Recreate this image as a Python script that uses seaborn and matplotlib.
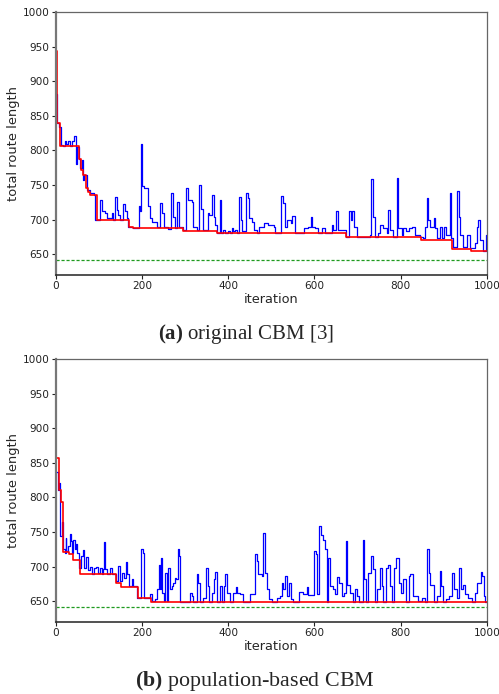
import numpy as np
import pandas as pd
import matplotlib
matplotlib.use("Agg")
import matplotlib.pyplot as plt
import seaborn as sns

# ---------------- data ----------------
optimum = 641

# (a) original CBM
a_best_iter = [0, 4, 10, 55, 59, 64, 70, 74, 80, 95, 170, 180, 294, 373, 673, 848, 920, 963, 1000]
a_best_len = [943, 839, 806, 788, 772, 764, 745, 740, 736, 699, 690, 688, 684, 680, 675, 671, 658, 654, 654]

a_cur_iter = [0, 3, 8, 12, 18, 22, 25, 29, 33, 37, 42, 46, 50, 53, 56, 60, 64, 66, 72, 80,
              88, 92, 103, 107, 114, 118, 126, 130, 134, 138, 141, 145, 149, 157, 161, 166, 168,
              180, 192, 195, 197, 201, 205, 211, 213, 219, 223, 230, 234, 242, 246, 250, 261,
              267, 271, 277, 282, 287, 294, 302, 307, 315, 319, 327, 332, 336, 341, 352, 356,
              362, 366, 369, 375, 381, 383, 389, 393, 400, 404, 408, 412, 416, 420, 426, 429,
              433, 441, 445, 449, 454, 460, 466, 472, 483, 493, 505, 508, 522, 526, 532, 537,
              546, 549, 555, 576, 586, 591, 595, 601, 609, 617, 624, 640, 644, 651, 655, 673,
              681, 685, 688, 692, 698, 729, 731, 735, 740, 748, 752, 760, 767, 771, 775, 781,
              791, 794, 802, 806, 812, 818, 825, 833, 845, 852, 856, 860, 864, 868, 876, 880,
              883, 890, 895, 900, 906, 914, 917, 922, 930, 934, 937, 944, 953, 961, 972, 976,
              980, 984, 990, 997, 1000]
a_cur_len = [881, 840, 834, 808, 807, 813, 809, 813, 807, 813, 821, 781, 805, 787, 774, 786, 757, 764, 743, 738,
             736, 700, 729, 713, 709, 702, 703, 709, 700, 732, 714, 707, 700, 723, 712, 703, 690,
             688, 719, 712, 809, 748, 745, 745, 719, 702, 697, 696, 689, 724, 709, 690, 687,
             739, 704, 688, 725, 690, 685, 745, 728, 726, 690, 685, 750, 716, 685, 709, 707,
             736, 704, 692, 680, 728, 680, 685, 680, 684, 680, 688, 683, 685, 680, 732, 700,
             683, 738, 731, 702, 697, 685, 680, 690, 695, 692, 690, 680, 734, 724, 690, 700,
             695, 705, 680, 688, 690, 704, 690, 688, 680, 688, 680, 692, 685, 712, 685, 675,
             712, 700, 712, 690, 675, 678, 758, 704, 675, 680, 692, 688, 680, 714, 685, 675,
             760, 688, 678, 688, 683, 688, 689, 678, 675, 673, 690, 731, 700, 690, 702, 688,
             673, 690, 673, 690, 678, 739, 673, 661, 741, 704, 678, 661, 678, 659, 666, 690,
             700, 670, 654, 678, 678]

# (b) population-based CBM
b_best_iter = [0, 8, 12, 18, 30, 40, 57, 140, 152, 190, 220, 1000]
b_best_len = [857, 811, 794, 721, 718, 710, 690, 677, 671, 654, 649, 649]

b_cur_iter = [0, 5, 8, 11, 14, 16, 18, 22, 23, 25, 29, 32, 35, 38, 41, 44, 47, 50, 55, 58,
              63, 66, 70, 75, 80, 84, 89, 94, 97, 103, 107, 110, 113, 115, 120, 126, 130, 140,
              145, 148, 153, 158, 162, 166, 171, 176, 180, 189, 198, 202, 205, 219, 223, 230,
              236, 239, 242, 244, 247, 250, 253, 257, 260, 264, 269, 273, 277, 280, 283, 286,
              288, 311, 315, 319, 327, 331, 335, 342, 348, 352, 356, 362, 366, 369, 373, 381,
              385, 390, 393, 398, 404, 412, 417, 421, 427, 435, 451, 462, 466, 470, 478, 481,
              485, 489, 495, 501, 512, 520, 524, 528, 532, 536, 542, 545, 551, 565, 573, 582,
              586, 599, 604, 607, 611, 615, 619, 624, 628, 632, 636, 642, 648, 652, 658, 663,
              668, 672, 676, 682, 689, 694, 699, 704, 712, 715, 719, 725, 731, 735, 740, 746,
              752, 756, 760, 765, 770, 774, 779, 785, 789, 795, 800, 806, 812, 818, 821, 828,
              841, 849, 856, 862, 866, 869, 876, 883, 890, 893, 899, 905, 913, 920, 924, 930,
              935, 939, 944, 949, 957, 965, 972, 976, 985, 989, 992, 995, 1000]
b_cur_len = [837, 811, 821, 744, 765, 753, 725, 720, 742, 722, 730, 747, 737, 720, 738, 725, 733, 720, 698, 715,
             724, 698, 714, 695, 700, 690, 698, 700, 691, 698, 690, 697, 735, 696, 690, 698, 690, 679,
             701, 679, 691, 684, 707, 690, 672, 682, 672, 655, 725, 720, 655, 660, 650, 653,
             667, 703, 667, 713, 662, 650, 691, 650, 698, 667, 672, 677, 684, 682, 726, 715,
             649, 662, 658, 649, 689, 677, 649, 655, 698, 672, 649, 662, 682, 692, 649, 672,
             649, 672, 689, 662, 649, 662, 670, 662, 660, 649, 661, 718, 708, 689, 686, 748,
             691, 667, 653, 649, 655, 658, 677, 667, 687, 658, 677, 653, 649, 663, 660, 670,
             659, 722, 718, 661, 758, 746, 739, 725, 649, 713, 672, 667, 660, 685, 677, 658,
             662, 737, 674, 662, 649, 667, 658, 649, 739, 682, 649, 691, 715, 696, 649, 667,
             698, 672, 649, 698, 702, 672, 649, 698, 713, 677, 662, 682, 649, 686, 689, 658,
             650, 654, 649, 725, 691, 674, 649, 658, 694, 672, 649, 653, 658, 691, 667, 655,
             698, 667, 674, 660, 655, 649, 662, 677, 692, 686, 658, 649, 649]

x_ticks = [0, 200, 400, 600, 800, 1000]
y_ticks = [650, 700, 750, 800, 850, 900, 950, 1000]
captions = [("(a)", "original CBM [3]"), ("(b)", "population-based CBM")]

# ---------------- style ----------------
sns.set_style("white")
plt.rcParams["font.family"] = ["DejaVu Sans"]
plt.rcParams["mathtext.fontset"] = "custom"
plt.rcParams["mathtext.rm"] = "Liberation Serif"
plt.rcParams["mathtext.bf"] = "Liberation Serif:bold"

fig = plt.figure(figsize=(4.99, 6.94), dpi=100)
W, H = 499, 694
ax_left, ax_right = 55.7, 487
axes_px = [(12, 275), (359, 622)]

datasets = [
    (a_cur_iter, a_cur_len, a_best_iter, a_best_len),
    (b_cur_iter, b_cur_len, b_best_iter, b_best_len),
]
cap_pos = [(246, 334), (255, 681)]
cap_size = [15.0, 15.8]

for k, ((top, bot), (ci, cl, bi, bl)) in enumerate(zip(axes_px, datasets)):
    ax = fig.add_axes([ax_left / W, 1 - bot / H, (ax_right - ax_left) / W, (bot - top) / H])
    cur = pd.DataFrame({"iteration": ci, "length": cl})
    best = pd.DataFrame({"iteration": bi, "length": bl})
    sns.lineplot(data=cur, x="iteration", y="length", ax=ax, color="#0000ff",
                 linewidth=0.9, drawstyle="steps-post", estimator=None, legend=False)
    sns.lineplot(data=best, x="iteration", y="length", ax=ax, color="#ff0000",
                 linewidth=1.2, drawstyle="steps-post", estimator=None, legend=False)
    ax.axhline(optimum, color="#1f9a1f", linestyle=(0, (2.5, 1.5)), linewidth=0.9)
    ax.set_xlim(0, 1000)
    ax.set_ylim(620, 1000)
    ax.set_xticks(x_ticks)
    ax.set_yticks(y_ticks)
    ax.tick_params(axis="both", labelsize=7.6, colors="#222222", length=3, width=0.8,
                   direction="out", left=True, bottom=True, pad=1.5)
    ax.set_xlabel("iteration", fontsize=9.3, labelpad=1)
    ax.set_ylabel("total route length", fontsize=9.4, labelpad=1.5)
    for side, sp in ax.spines.items():
        sp.set_visible(True)
        sp.set_color("#666666")
        sp.set_linewidth(0.9)
    ax.spines["left"].set_linewidth(1.6)
    ax.spines["left"].set_color("#777777")
    ax.spines["bottom"].set_color("#222222")
    ax.spines["bottom"].set_linewidth(1.1)

    lab, rest = captions[k]
    cx, cy = cap_pos[k]
    fig.text(cx / W, 1 - cy / H, r"$\mathbf{" + lab + r"}$" + " " + rest,
             ha="center", va="center", fontsize=cap_size[k], family="Liberation Serif")

fig.savefig("out.png", dpi=100)
